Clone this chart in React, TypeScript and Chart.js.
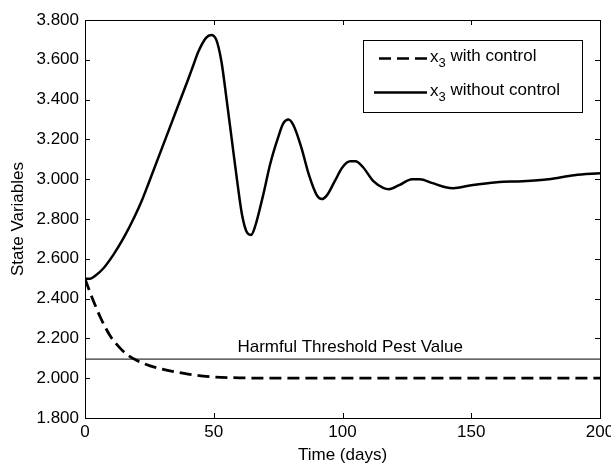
import React, { useEffect, useRef } from 'react';
import { Chart, registerables } from 'chart.js';

Chart.register(...registerables);

// ---- Data ----
const timeWithout = [0, 2, 4, 7, 11, 15, 19, 22, 25, 30, 35, 40, 42, 44, 47, 49, 51, 53, 55, 57, 59, 61, 63, 64.5, 66, 69, 72, 75, 77, 79, 81, 84, 87, 90, 92, 94, 97, 100, 103, 105, 108, 112, 116, 118, 122, 127, 130, 135, 140, 143, 150, 160, 170, 180, 190, 200];
const valuesWithout = [2.5, 2.5, 2.515, 2.55, 2.62, 2.705, 2.805, 2.89, 2.99, 3.16, 3.33, 3.5, 3.57, 3.64, 3.71, 3.725, 3.7, 3.59, 3.4, 3.2, 3.0, 2.82, 2.73, 2.72, 2.76, 2.91, 3.08, 3.21, 3.28, 3.3, 3.27, 3.16, 3.02, 2.92, 2.9, 2.92, 2.99, 3.06, 3.09, 3.09, 3.06, 2.99, 2.955, 2.95, 2.97, 3.0, 3.0, 2.98, 2.96, 2.955, 2.97, 2.985, 2.99, 3.0, 3.02, 3.03];

const timeWith = [0, 2, 4, 6, 8, 10, 13, 16, 20, 25, 30, 35, 40, 45, 50, 60, 70, 100, 150, 200];
const valuesWith = [2.5, 2.43, 2.365, 2.305, 2.253, 2.208, 2.16, 2.122, 2.09, 2.063, 2.046, 2.032, 2.02, 2.012, 2.006, 2.002, 2.0, 2.0, 2.0, 2.0];

const thresholdValue = 2.096;
const thresholdLabel = 'Harmful Threshold Pest Value';
const thresholdLabelAt = 103;

const xTicks = [0, 50, 100, 150, 200];
const yMin = 1.8;
const yMax = 3.8;
const yStep = 0.2;

const xTitle = 'Time (days)';
const yTitle = 'State Variables';
const legendVar = 'x';
const legendSub = '3';
const legendLabels = ['with control', 'without control'];

const FONT = '"Liberation Sans", Arial, Helvetica, sans-serif';
const FS = 17;

const framePlugin = {
  id: 'matlabFrame',
  afterDraw(chart: any) {
    const { ctx, chartArea } = chart;
    const { left, right, top, bottom } = chartArea;
    const xs = chart.scales.x;
    const ys = chart.scales.y;
    ctx.save();
    ctx.strokeStyle = '#000';
    ctx.lineWidth = 1;
    // box
    ctx.strokeRect(Math.round(left) + 0.5, Math.round(top) + 0.5, Math.round(right - left), Math.round(bottom - top));
    const tl = 5;
    ctx.beginPath();
    xs.ticks.forEach((t: any) => {
      const px = Math.round(xs.getPixelForValue(t.value)) + 0.5;
      ctx.moveTo(px, bottom);
      ctx.lineTo(px, bottom - tl);
      ctx.moveTo(px, top);
      ctx.lineTo(px, top + tl);
    });
    ys.ticks.forEach((t: any) => {
      const py = Math.round(ys.getPixelForValue(t.value)) + 0.5;
      ctx.moveTo(left, py);
      ctx.lineTo(left + tl, py);
      ctx.moveTo(right, py);
      ctx.lineTo(right - tl, py);
    });
    ctx.stroke();

    // threshold label
    ctx.fillStyle = '#000';
    ctx.font = `${FS}px ${FONT}`;
    ctx.textAlign = 'center';
    ctx.textBaseline = 'bottom';
    ctx.fillText(thresholdLabel, xs.getPixelForValue(thresholdLabelAt), ys.getPixelForValue(thresholdValue) - 3);

    // legend
    const boxL = 363.5;
    const boxT = Math.round(top) + 20.5;
    const boxR = Math.round(right - 18) + 0.5;
    const boxB = boxT + 72;
    ctx.fillStyle = '#fff';
    ctx.fillRect(boxL, boxT, boxR - boxL, boxB - boxT);
    ctx.strokeStyle = '#000';
    ctx.lineWidth = 1;
    ctx.strokeRect(boxL, boxT, boxR - boxL, boxB - boxT);
    const rows = [boxT + 16, boxT + 50];
    rows.forEach((ry, i) => {
      ctx.save();
      ctx.lineWidth = 2.5;
      ctx.strokeStyle = '#000';
      if (i === 0) ctx.setLineDash([12, 6]);
      ctx.beginPath();
      ctx.moveTo(i === 0 ? 379 : 374, ry + 2);
      ctx.lineTo(427, ry + 2);
      ctx.stroke();
      ctx.restore();
      ctx.fillStyle = '#000';
      ctx.textAlign = 'left';
      ctx.textBaseline = 'middle';
      let tx = 430;
      ctx.font = `${FS}px ${FONT}`;
      ctx.fillText(legendVar, tx, ry + 1);
      tx += ctx.measureText(legendVar).width;
      ctx.font = `${FS - 4}px ${FONT}`;
      ctx.fillText(legendSub, tx, ry + 7);
      tx += ctx.measureText(legendSub).width;
      ctx.font = `${FS}px ${FONT}`;
      ctx.fillText(' ' + legendLabels[i], tx, ry);
    });
    ctx.restore();
  },
};

export default function App() {
  const ref = useRef<HTMLCanvasElement | null>(null);
  useEffect(() => {
    if (!ref.current) return;
    const chart = new Chart(ref.current, {
      type: 'line',
      data: {
        datasets: [
          {
            label: 'x3 with control',
            data: timeWith.map((t, i) => ({ x: t, y: valuesWith[i] })),
            borderColor: '#000',
            borderWidth: 2.8,
            borderDash: [12, 6],
            pointRadius: 0,
            cubicInterpolationMode: 'monotone',
            fill: false,
          },
          {
            label: 'x3 without control',
            data: timeWithout.map((t, i) => ({ x: t, y: valuesWithout[i] })),
            borderColor: '#000',
            borderWidth: 2.5,
            pointRadius: 0,
            cubicInterpolationMode: 'monotone',
            fill: false,
          },
          {
            label: 'threshold',
            data: [
              { x: xTicks[0], y: thresholdValue },
              { x: xTicks[xTicks.length - 1], y: thresholdValue },
            ],
            borderColor: '#000',
            borderWidth: 1,
            pointRadius: 0,
            fill: false,
          },
        ],
      },
      options: {
        animation: false,
        responsive: false,
        devicePixelRatio: 1,
        layout: { padding: { left: 0, right: 11, top: 20, bottom: 0 } },
        plugins: { legend: { display: false }, tooltip: { enabled: false } },
        scales: {
          x: {
            type: 'linear',
            min: xTicks[0],
            max: xTicks[xTicks.length - 1],
            afterBuildTicks: (s: any) => {
              s.ticks = xTicks.map((v) => ({ value: v }));
            },
            grid: { display: false, drawTicks: false },
            border: { display: false },
            ticks: { color: '#000', font: { family: FONT, size: FS }, padding: 4, maxRotation: 0, autoSkip: false },
            title: { display: true, text: xTitle, color: '#000', font: { family: FONT, size: FS }, padding: 0 },
            afterFit: (s: any) => {
              s.height = 48;
              s.paddingLeft = 0;
              s.paddingRight = 0;
            },
          },
          y: {
            type: 'linear',
            min: yMin,
            max: yMax,
            ticks: {
              stepSize: yStep,
              color: '#000',
              font: { family: FONT, size: FS },
              padding: 6,
              callback: (v: any) => Number(v).toFixed(3),
            },
            grid: { display: false, drawTicks: false },
            border: { display: false },
            title: { display: true, text: yTitle, color: '#000', font: { family: FONT, size: FS }, padding: 8 },
            afterFit: (s: any) => {
              s.width = 85;
              s.paddingTop = 0;
              s.paddingBottom = 0;
            },
          },
        },
      },
      plugins: [framePlugin],
    } as any);
    return () => chart.destroy();
  }, []);
  return (
    <div style={{ position: 'fixed', left: 0, top: 0, width: 611, height: 466, background: '#fff' }}>
      <canvas ref={ref} width={611} height={466} style={{ width: 611, height: 466 }} />
    </div>
  );
}
